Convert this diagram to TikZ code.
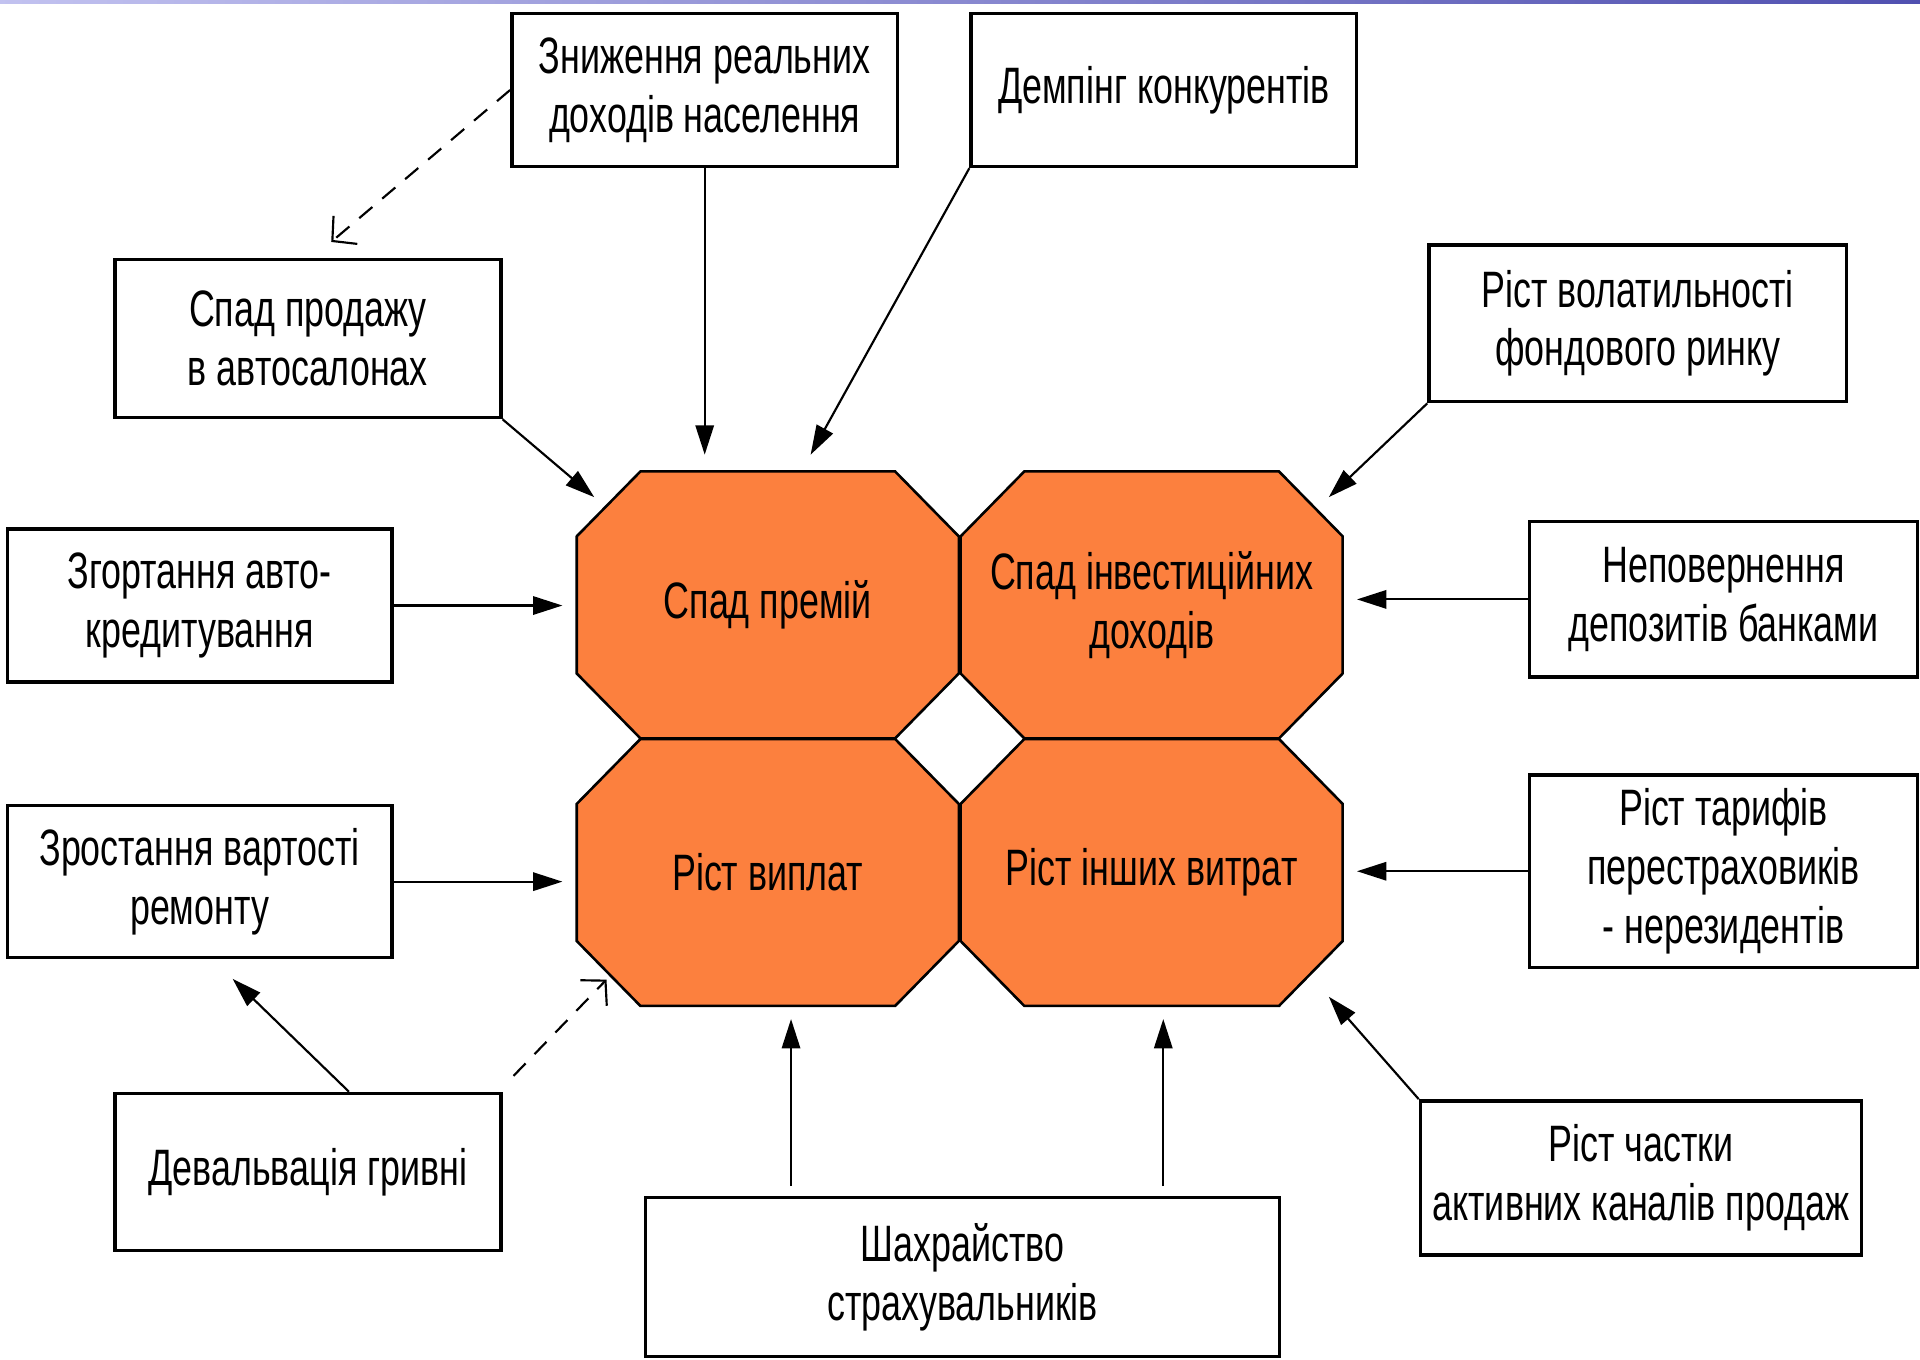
\documentclass[tikz,border=0pt]{standalone}
\usepackage{fontspec}
\setmainfont{Liberation Sans}[FakeStretch=0.7]
\usepackage{tikz}
\usetikzlibrary{arrows.meta}
\definecolor{octorange}{RGB}{252,128,62}
\definecolor{barblue}{RGB}{80,80,176}

\begin{document}
\begin{tikzpicture}[
    box/.style={rectangle, draw, line width=0.8pt, align=center, minimum width=3.15cm, minimum height=1.25cm, inner sep=0pt},
    oct/.style={rectangle, align=center, minimum width=3.12cm, minimum height=2.18cm, inner sep=0pt},
    dasharrow/.style={line width=0.5pt, dash pattern=on 4pt off 3pt, -{Straight Barb[length=0.14cm,width=0.3cm]}},
    >={Triangle[length=0.24cm,width=0.15cm]},
    font=\fontsize{11.9}{13.7}\selectfont]
  \useasboundingbox (0,0) rectangle (15.68,11.10);
  \shade[left color=gray!40!blue!30, right color=barblue] (0,11.075) rectangle (15.68,11.10);
  % Octagons
  \foreach \x/\y in {6.27/6.16, 9.405/6.16, 6.27/3.975, 9.405/3.975}
    \filldraw[fill=octorange, line width=0.6pt] (\x,\y) ++(-1.04,1.09) -- ++(2.08,0) -- ++(0.52,-0.53) -- ++(0,-1.12)
      -- ++(-0.52,-0.53) -- ++(-2.08,0) -- ++(-0.52,0.53) -- ++(0,1.12) -- cycle;
  % Nodes
  \node[oct] (a) at (6.27, 6.16) {Спад премій};
  \node[oct] (b) at (9.405, 6.16) {Спад інвестиційних\\доходів};
  \node[oct] (c) at (6.27, 3.975) {Ріст виплат};
  \node[oct] (d) at (9.405, 3.975) {Ріст інших витрат};
  \node[box] (1) at (5.755, 10.365) {Зниження реальних\\доходів населення};
  \node[box] (2) at (9.505, 10.365) {Демпінг конкурентів};
  \node[box, minimum height=1.29cm] (3) at (2.515, 8.335) {Спад продажу\\в автосалонах};
  \node[box, minimum width=3.41cm, minimum height=1.28cm] (4) at (13.375, 8.46) {Ріст волатильності\\фондового ринку};
  \node[box, minimum width=3.14cm] (5) at (1.63, 6.155) {Згортання авто-\\кредитування};
  \node[box, minimum width=3.17cm, minimum height=1.27cm] (6) at (14.075, 6.205) {Неповернення\\депозитів банками};
  \node[box, minimum width=3.14cm, minimum height=1.24cm] (7) at (1.63, 3.90) {Зростання вартості\\ремонту};
  \node[box, minimum width=3.17cm, minimum height=1.57cm] (8) at (14.075, 3.985) {Ріст тарифів\\перестраховиків\\- нерезидентів};
  \node[box, minimum height=1.28cm] (9) at (2.515, 1.53) {Девальвація гривні};
  \node[box, minimum width=5.18cm, minimum height=1.30cm] (10) at (7.86, 0.67) {Шахрайство\\страхувальників};
  \node[box, minimum width=3.60cm, minimum height=1.26cm] (11) at (13.40, 1.48) {Ріст частки\\активних каналів продаж};
  % Edges
  \draw[->, line width=0.5pt, shorten >=0.13cm] (1.south) -- (1.south |- a.north);
  \draw[->, line width=0.5pt] (2.south west) -- ([xshift=0.35cm,yshift=0.13cm]a.north);
  \draw[dasharrow] (1.west) -- ([xshift=0.19cm,yshift=0.13cm]3.north);
  \draw[->, line width=0.5pt] (3.south east) -- ([xshift=0.15cm,yshift=0.88cm]a.west);
  \draw[->, line width=0.5pt] (4.south west) -- ([xshift=-0.12cm,yshift=0.88cm]b.east);
  \draw[->, line width=0.5pt, shorten >=0.11cm] (5.east) -- (5.east -| a.west);
  \draw[->, line width=0.5pt, shorten >=0.11cm] (6.west) -- (6.west -| b.east);
  \draw[->, line width=0.5pt, shorten >=0.11cm] (7.east) -- (7.east -| c.west);
  \draw[->, line width=0.5pt, shorten >=0.11cm] (8.west) -- (8.west -| d.east);
  \draw[->, line width=0.5pt] ([xshift=0.335cm]9.north) -- ([xshift=0.27cm,yshift=-0.16cm]7.south);
  \draw[dasharrow] ([xshift=0.09cm,yshift=0.13cm]9.north east) -- ([xshift=0.25cm,yshift=-0.875cm]c.west);
  \draw[->, line width=0.5pt, shorten >=0.1cm] ([xshift=-1.40cm,yshift=0.08cm]10.north) -- ([xshift=-1.40cm]10.north |- c.south);
  \draw[->, line width=0.5pt, shorten >=0.1cm] ([xshift=1.64cm,yshift=0.08cm]10.north) -- ([xshift=1.64cm]10.north |- d.south);
  \draw[->, line width=0.5pt] (11.north west) -- ([xshift=-0.12cm,yshift=-1.015cm]d.east);
\end{tikzpicture}
\end{document}
